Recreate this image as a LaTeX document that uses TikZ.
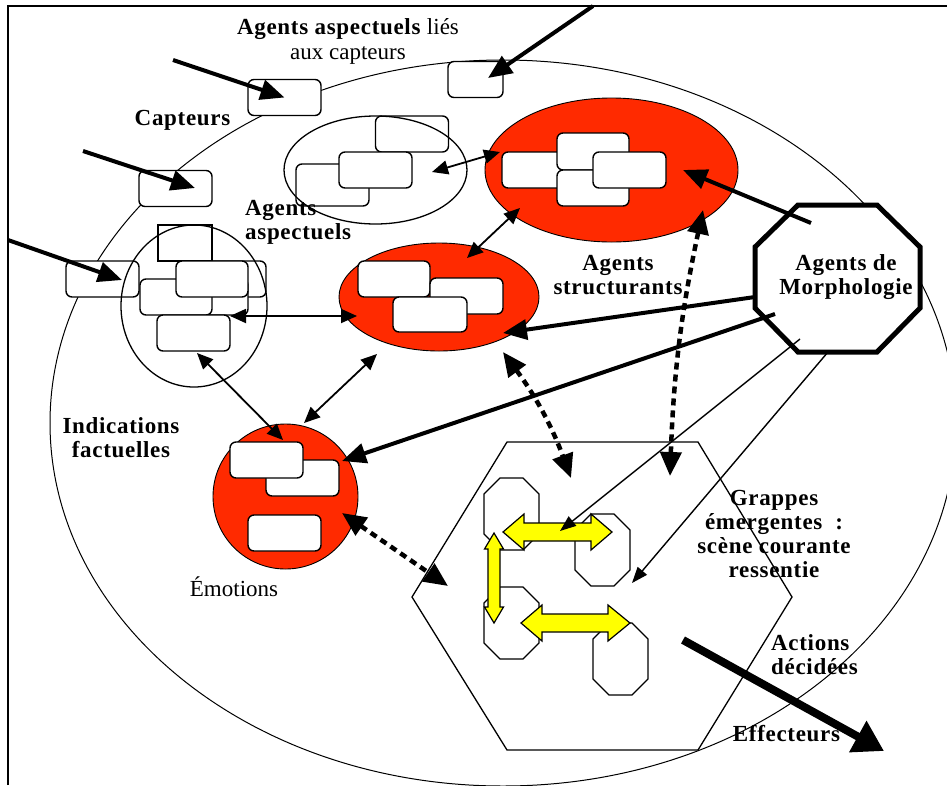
\documentclass[tikz,border=0pt]{standalone}
\usepackage{fontspec}
\setmainfont{Liberation Serif}[BoldFeatures={LetterSpace=3}]
\usetikzlibrary{shapes.geometric,arrows.meta,calc}
\definecolor{emred}{RGB}{255,42,0}
\definecolor{grpyellow}{RGB}{255,255,0}
\begin{document}
\begin{tikzpicture}[x=1pt,y=-1pt,
  cell/.style={draw, fill=white, rounded corners=6pt, line width=1.4pt,
    minimum width=73pt, minimum height=36pt, inner sep=0pt},
  zone/.style={ellipse, draw, line width=1.3pt, inner sep=0pt},
  redzone/.style={ellipse, draw, fill=emred, line width=0.9pt, inner sep=0pt},
  lab/.style={font=\fontsize{23}{24}\selectfont, inner sep=0pt, align=center},
  blab/.style={lab, font=\fontsize{23}{24}\selectfont\bfseries},
  sensorarrow/.style={line width=4pt, -{Triangle[length=24pt,width=20pt]}},
  morpharrow/.style={line width=4pt, -{Triangle[length=24pt,width=20pt]}},
  thinarrow/.style={line width=1.4pt, -{Triangle[length=16pt,width=12pt]}},
  linkarrow/.style={line width=1.8pt, {Triangle[length=16pt,width=14pt]}-{Triangle[length=16pt,width=14pt]}},
  dotarrow/.style={line width=4.5pt, dash pattern=on 7pt off 5pt,
    {Triangle[length=24pt,width=21pt]}-{Triangle[length=24pt,width=21pt]}},
  yarrow/.style={draw, fill=grpyellow, line width=1.2pt, line join=miter},
  octo/.pic={\draw[fill=white, line width=1.3pt]
    (16,0) -- (39,0) -- (55,16) -- (55,56) -- (39,72) -- (16,72) -- (0,56) -- (0,16) -- cycle;}
]
\useasboundingbox (0,0) rectangle (947,785);

% frame
\draw[line width=2.5pt] (8,785) -- (8,6) -- (947,6);

% the agent (outer ellipse)
\draw[line width=1pt] (503,423) ellipse [x radius=453pt, y radius=363pt];

% sensors
\node[cell] (cap1) at (284.5,97.5) {};
\node[cell] (cap2) at (175.5,188.5) {};
\node[cell, minimum width=55pt] (cap3) at (475.5,79.5) {};
\node[cell] (cap4) at (102.5,279) {};

\coordinate (in1) at (173,60);
\coordinate (in2) at (83,151);
\coordinate (in3) at (8,240);
\coordinate (in4) at (593,6);
\coordinate (t2) at (195,188);
\coordinate (t3) at (122,280);
\coordinate (t4) at (488,78);
\draw[sensorarrow] (in1) -- (cap1.center);
\draw[sensorarrow] (in2) -- (t2);
\draw[sensorarrow] (in3) -- (t3);
\draw[sensorarrow] (in4) -- (t4);

% aspectual agents tied to the sensors
\node[cell] (wa1) at (412,134) {};
\node[cell, minimum height=42pt] (wa3) at (332.5,185) {};
\node[cell] (wa2) at (375.5,170) {};
\node[zone, minimum width=183pt, minimum height=108pt] (wA) at (375.5,170) {};

% structuring agents (upper)
\node[redzone, minimum width=253pt, minimum height=144pt] (rS) at (611.5,170) {};
\node[cell, minimum width=72pt] (rs1) at (538,170) {};
\node[cell, minimum width=72pt, minimum height=37pt] (rs2) at (593,151.5) {};
\node[cell, minimum width=72pt] (rs3) at (593,188) {};
\node[cell] (rs4) at (629.5,170) {};

% structuring agents (middle)
\node[redzone, minimum width=200pt, minimum height=108pt] (rM) at (439,297) {};
\node[cell, minimum width=72pt] (rm1) at (394,279) {};
\node[cell] (rm2) at (466.5,296) {};
\node[cell, minimum width=74pt, minimum height=35pt] (rm3) at (430,314.5) {};

% aspectual agents
\node[draw, fill=white, line width=1.4pt, minimum width=54pt, minimum height=36pt, inner sep=0pt] (sq) at (185,243) {};
\node[cell, minimum width=72pt] (wb1) at (230,279) {};
\node[cell, minimum width=72pt] (wb2) at (212,297) {};
\node[cell, minimum width=72pt] (wb3) at (176,297) {};
\node[cell, minimum width=72pt] (wb4) at (212,279) {};
\node[cell] (wb5) at (193.5,333) {};
\node[zone, minimum width=146pt, minimum height=162pt] (wB) at (194,306) {};

% emotions
\node[redzone, circle, minimum size=145pt] (emo) at (285.5,496.5) {};
\node[cell] (em2) at (302.5,478) {};
\node[cell] (em1) at (266.5,460) {};
\node[cell] (em3) at (284.5,533) {};

% emergent clusters
\draw[line width=1.3pt] (412,597) -- (507,442) -- (698,442) -- (792,597) -- (698,750) -- (507,750) -- cycle;
\pic at (484,478) {octo};
\pic at (575,514) {octo};
\pic at (484,587) {octo};
\pic at (593,623) {octo};
\draw[yarrow] (503,532) -- (524,514) -- (524,523) -- (591,523) -- (591,514) -- (612,532)
  -- (591,550) -- (591,541) -- (524,541) -- (524,550) -- cycle;
\draw[yarrow] (521,623) -- (542,605) -- (542,614) -- (608,614) -- (608,605) -- (630,623)
  -- (608,641) -- (608,632) -- (542,632) -- (542,641) -- cycle;
\draw[yarrow] (494,533) -- (503.5,549) -- (500,549) -- (500,607) -- (503.5,607) -- (494,623)
  -- (484.5,607) -- (488,607) -- (488,549) -- (484.5,549) -- cycle;

% morphology agents
\draw[line width=5pt, fill=white, line join=miter]
  (798,205) -- (877,205) -- (920,247) -- (920,308) -- (877,352) -- (798,352) -- (755,308) -- (755,247) -- cycle;

% links between agent groups
\coordinate (a1) at (432,172);  \coordinate (a2) at (500,152);
\coordinate (b1) at (230,316);  \coordinate (b2) at (357,316);
\coordinate (c1) at (197,353);  \coordinate (c2) at (283,440);
\coordinate (d1) at (304,423);  \coordinate (d2) at (377,354);
\coordinate (e1) at (467,258);  \coordinate (e2) at (520,208);
\draw[linkarrow] (a1) -- (a2);
\draw[linkarrow] (b1) -- (b2);
\draw[linkarrow] (c1) -- (c2);
\draw[linkarrow] (d1) -- (d2);
\draw[linkarrow] (e1) -- (e2);

% control from the morphology
\coordinate (m1s) at (811,223); \coordinate (m1t) at (683,170);
\coordinate (m2s) at (755,297); \coordinate (m2t) at (503,333);
\coordinate (m3s) at (775,314); \coordinate (m3t) at (342,461);
\coordinate (m4s) at (800,339); \coordinate (m4t) at (560,531);
\coordinate (m5s) at (828,352); \coordinate (m5t) at (632,583);
\draw[morpharrow] (m1s) -- (m1t);
\draw[morpharrow] (m2s) -- (m2t);
\draw[morpharrow] (m3s) -- (m3t);
\draw[thinarrow] (m4s) -- (m4t);
\draw[thinarrow] (m5s) -- (m5t);

% feedback with the emergent clusters
\coordinate (f1) at (703,210);  \coordinate (f2) at (670,476);
\coordinate (g1) at (503,352);  \coordinate (g2) at (571,478);
\coordinate (h1) at (342,513);  \coordinate (h2) at (448,586);
\draw[dotarrow] (f1) to[bend right=5] (f2);
\draw[dotarrow] (g1) to[bend left=8] (g2);
\draw[dotarrow] (h1) -- (h2);

% decided actions
\coordinate (act1) at (683,640); \coordinate (act2) at (884,751);
\draw[line width=8pt, -{Triangle[length=30pt,width=34pt]}] (act1) -- (act2);

% labels (anchored on the baseline of their last line)
\node[lab, anchor=base] (lblA) at (348,59.5) {\textbf{Agents aspectuels} liés\\[1pt]aux capteurs};
\node[blab, anchor=base] (lblCap) at (182.5,125.5) {Capteurs};
\node[blab, anchor=base west, align=left] (lblAsp) at (245,239.5) {Agents\\aspectuels};
\node[blab, anchor=base] (lblStr) at (618,294) {Agents\\structurants};
\node[blab, anchor=base] (morph) at (846,294) {Agents de\\Morphologie};
\node[blab, anchor=base] (lblInd) at (121,457.3) {Indications\\factuelles};
\node[lab, anchor=base] (lblEmo) at (234,596.5) {Émotions};
\node[blab, anchor=base] (lblGr) at (774,577.3) {Grappes\\émergentes\ \ :\\scène courante\\ressentie};
\node[blab, anchor=base west, align=left] (lblAct) at (771,674) {Actions\\décidées};
\node[blab, anchor=base] (lblEff) at (786.5,741.5) {Effecteurs};
\end{tikzpicture}
\end{document}
